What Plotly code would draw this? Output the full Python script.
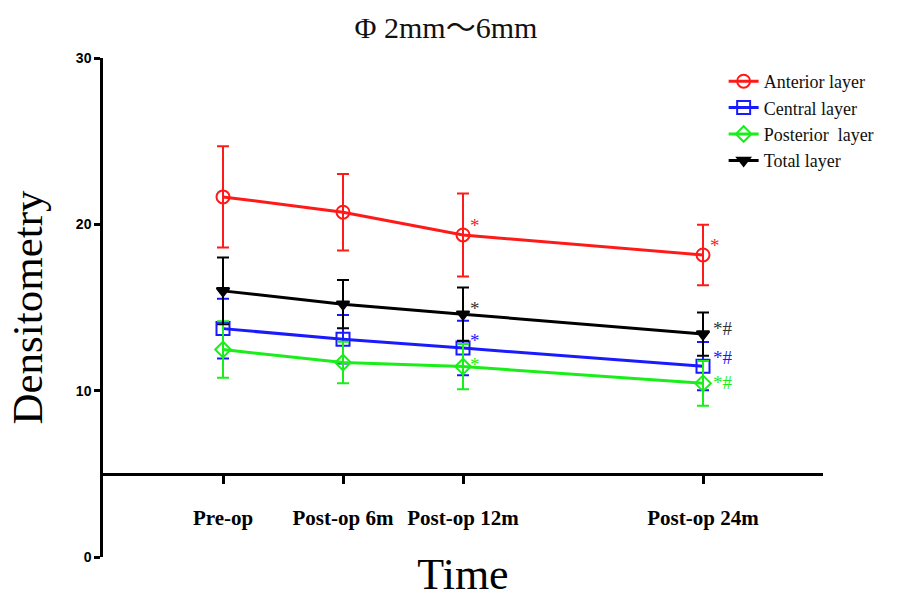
import plotly.graph_objects as go

# ---- data ----
time_months = [0, 6, 12, 24]
time_labels = ["Pre-op", "Post-op 6m", "Post-op 12m", "Post-op 24m"]

anterior_mean = [21.65, 20.73, 19.36, 18.16]
anterior_sd = [3.05, 2.30, 2.50, 1.82]

central_mean = [13.73, 13.09, 12.56, 11.47]
central_sd = [1.80, 1.46, 1.64, 1.45]

posterior_mean = [12.47, 11.69, 11.45, 10.44]
posterior_sd = [1.70, 1.25, 1.36, 1.35]

total_mean = [16.00, 15.20, 14.60, 13.40]
total_sd = [2.00, 1.45, 1.60, 1.30]

anterior_sig = ["", "", "*", "*"]
central_sig = ["", "", "*", "*#"]
posterior_sig = ["", "", "*", "*#"]
total_sig = ["", "", "*", "*#"]

# style: (name, mean, sd, sig, colour, symbol, marker size, label y-offsets in px)
series = [
    ("Anterior layer", anterior_mean, anterior_sd, anterior_sig, "#ff1a1a", "circle-open", 13, [0, 0, 9, 9]),
    ("Central layer", central_mean, central_sd, central_sig, "#1a1aff", "square-open", 13, [0, 0, 8, 9]),
    ("Posterior\u00a0 layer", posterior_mean, posterior_sd, posterior_sig, "#1aee1a", "diamond-open", 12, [0, 0, 2, 1]),
    ("Total layer", total_mean, total_sd, total_sig, "#000000", "triangle-down", 11, [0, 0, 6, 6]),
]

fig = go.Figure()
annotations = []
for name, mean, sd, sig, color, symbol, msize, yshifts in series:
    fig.add_trace(go.Scatter(
        x=time_months, y=mean, name=name, mode="lines+markers",
        line=dict(color=color, width=3),
        marker=dict(symbol=symbol, size=msize, color=color,
                    line=dict(color=color, width=2)),
        error_y=dict(type="data", array=sd, visible=True, color=color, thickness=2, width=6),
    ))
    for xv, yv, s, ys in zip(time_months, mean, sig, yshifts):
        if not s:
            continue
        annotations.append(dict(
            x=xv, y=yv, xref="x", yref="y", text=s, showarrow=False,
            xanchor="left", yanchor="middle",
            xshift=5 if s == "*" else 8,
            yshift=ys,
            font=dict(family="Liberation Serif", size=19, color=color if color != "#000000" else "#333333"),
        ))

fig.update_layout(
    width=921, height=599,
    margin=dict(l=103, r=98, t=58, b=42, autoexpand=False),
    paper_bgcolor="white", plot_bgcolor="white",
    title=dict(text="Φ 2mm～6mm", x=446 / 921, xanchor="center", y=1 - 27 / 599, yanchor="middle",
               font=dict(family="Liberation Serif, Noto Sans CJK SC", size=30, color="#111111")),
    showlegend=True,
    legend=dict(x=0.862, y=0.99, xanchor="left", yanchor="top",
                font=dict(family="Liberation Serif", size=18, color="#111111"),
                bgcolor="rgba(0,0,0,0)", tracegroupgap=0),
    annotations=annotations,
    xaxis=dict(
        range=[-6, 30], anchor="free", position=5 / 30, automargin=False,
        tickmode="array", tickvals=time_months, ticktext=time_labels,
        ticks="outside", ticklen=8, tickwidth=2.5, tickcolor="black",
        ticklabelstandoff=16,
        tickfont=dict(family="Liberation Serif", size=21, color="black", weight="bold"),
        showline=True, linecolor="black", linewidth=2.5,
        showgrid=False, zeroline=False,
        title=dict(text="Time", font=dict(family="Liberation Serif", size=44, color="black"), standoff=36),
    ),
    yaxis=dict(
        range=[0, 30], tickvals=[0, 10, 20, 30], automargin=False,
        ticks="outside", ticklen=6, tickwidth=2.5, tickcolor="black",
        tickfont=dict(family="Liberation Sans", size=14, color="black", weight="bold"),
        showline=True, linecolor="black", linewidth=2.5,
        showgrid=False, zeroline=False,
        title=dict(text="Densitometry", font=dict(family="Liberation Serif", size=43, color="black"), standoff=20),
    ),
)

fig.write_html("out.html", config={"displayModeBar": False},
               post_script="document.body.style.margin='0';")
